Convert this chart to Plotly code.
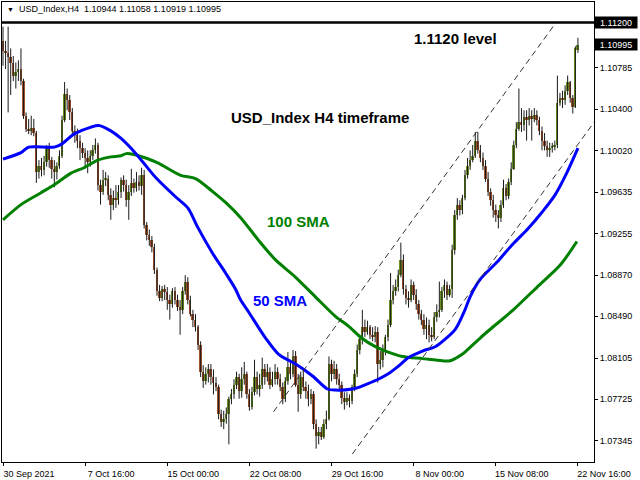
import plotly.graph_objects as go

# USD_Index H4 candles, 30 Sep 2021 00:00 -> 22 Nov 2021 16:00 (x = bar number)
opens = [1.1103, 1.1094, 1.1092, 1.1088, 1.1083, 1.1071, 1.1074, 1.1077, 1.1066, 1.1034,
         1.1022, 1.1020, 1.1023, 1.1018, 1.0982, 1.0988, 1.0984, 1.0991, 1.1004, 1.0993,
         1.0985, 1.0982, 1.0988, 1.0997, 1.1030, 1.1054, 1.1048, 1.1037, 1.1020, 1.1016,
         1.1011, 1.1004, 1.1000, 1.0995, 1.0991, 1.0997, 1.1002, 1.1007, 1.0970, 1.0964,
         1.0975, 1.0976, 1.0961, 1.0952, 1.0958, 1.0956, 1.0964, 1.0975, 1.0970, 1.0956,
         1.0964, 1.0972, 1.0967, 1.0973, 1.0969, 1.0979, 1.0933, 1.0924, 1.0919, 1.0913,
         1.0892, 1.0872, 1.0866, 1.0874, 1.0871, 1.0864, 1.0860, 1.0872, 1.0864, 1.0858,
         1.0855, 1.0872, 1.0881, 1.0864, 1.0851, 1.0846, 1.0839, 1.0823, 1.0798, 1.0789,
         1.0796, 1.0800, 1.0793, 1.0788, 1.0784, 1.0759, 1.0752, 1.0754, 1.0759, 1.0773,
         1.0777, 1.0786, 1.0793, 1.0780, 1.0791, 1.0796, 1.0777, 1.0765, 1.0779, 1.0793,
         1.0782, 1.0786, 1.0800, 1.0793, 1.0798, 1.0786, 1.0791, 1.0798, 1.0791, 1.0784,
         1.0773, 1.0789, 1.0802, 1.0796, 1.0812, 1.0786, 1.0777, 1.0793, 1.0784, 1.0780,
         1.0773, 1.0777, 1.0750, 1.0739, 1.0742, 1.0738, 1.0750, 1.0754, 1.0805, 1.0796,
         1.0800, 1.0791, 1.0786, 1.0774, 1.0770, 1.0774, 1.0771, 1.0784, 1.0796, 1.0818,
         1.0828, 1.0839, 1.0835, 1.0839, 1.0832, 1.0830, 1.0835, 1.0805, 1.0809, 1.0817,
         1.0830, 1.0841, 1.0864, 1.0872, 1.0876, 1.0887, 1.0901, 1.0874, 1.0866, 1.0864,
         1.0878, 1.0869, 1.0860, 1.0851, 1.0846, 1.0837, 1.0841, 1.0832, 1.0830, 1.0848,
         1.0853, 1.0855, 1.0872, 1.0878, 1.0869, 1.0874, 1.0910, 1.0942, 1.0952, 1.0947,
         1.0958, 1.0979, 1.0988, 1.0993, 1.0997, 1.1011, 1.1002, 1.0995, 1.0988, 1.0976,
         1.0964, 1.0956, 1.0947, 1.0942, 1.0940, 1.0952, 1.0967, 1.0960, 1.0973, 1.0985,
         1.1007, 1.1022, 1.1028, 1.1025, 1.1033, 1.1030, 1.1034, 1.1031, 1.1035, 1.1030,
         1.1020, 1.1011, 1.1006, 1.1002, 1.1004, 1.1006, 1.1007, 1.1046, 1.1050, 1.1048,
         1.1057, 1.1065, 1.1050, 1.1042, 1.10944]

highs = [1.1116, 1.1103, 1.1116, 1.1096, 1.1089, 1.1083, 1.1085, 1.1096, 1.1068, 1.1037,
         1.1031, 1.1034, 1.1031, 1.1020, 1.0993, 1.0995, 1.0997, 1.1007, 1.1009, 1.0996,
         1.0993, 1.0991, 1.1002, 1.1034, 1.1065, 1.1059, 1.1053, 1.1041, 1.1025, 1.1022,
         1.1016, 1.1009, 1.1004, 1.1002, 1.1002, 1.1007, 1.1013, 1.1009, 1.0975, 1.0984,
         1.0982, 1.0979, 1.0967, 1.0965, 1.0970, 1.0970, 1.0977, 1.0979, 1.0975, 1.0970,
         1.0985, 1.0976, 1.0982, 1.0979, 1.0986, 1.0984, 1.0936, 1.0929, 1.0923, 1.0916,
         1.0894, 1.0878, 1.0877, 1.0878, 1.0876, 1.0869, 1.0875, 1.0876, 1.0869, 1.0864,
         1.0876, 1.0887, 1.0885, 1.0868, 1.0855, 1.0851, 1.0841, 1.0826, 1.0804, 1.0802,
         1.0805, 1.0805, 1.0800, 1.0793, 1.0786, 1.0763, 1.0762, 1.0765, 1.0775, 1.0782,
         1.0791, 1.0798, 1.0796, 1.0802, 1.0807, 1.0798, 1.0782, 1.0784, 1.0809, 1.0798,
         1.0796, 1.0811, 1.0805, 1.0805, 1.0802, 1.0798, 1.0805, 1.0802, 1.0796, 1.0788,
         1.0793, 1.0816, 1.0809, 1.0818, 1.0817, 1.0796, 1.0798, 1.0800, 1.0789, 1.0786,
         1.0782, 1.0780, 1.0754, 1.0747, 1.0747, 1.0754, 1.0762, 1.0812, 1.0809, 1.0808,
         1.0805, 1.0796, 1.0789, 1.0779, 1.0779, 1.0777, 1.0786, 1.0800, 1.0823, 1.0832,
         1.0855, 1.0846, 1.0845, 1.0841, 1.0839, 1.0840, 1.0839, 1.0817, 1.0823, 1.0832,
         1.0846, 1.0889, 1.0878, 1.0883, 1.0892, 1.0917, 1.0906, 1.0878, 1.0872, 1.0883,
         1.0881, 1.0874, 1.0864, 1.0855, 1.0851, 1.0848, 1.0846, 1.0839, 1.0853, 1.0860,
         1.0881, 1.0876, 1.0883, 1.0881, 1.0878, 1.0915, 1.0947, 1.0958, 1.0956, 1.0961,
         1.0984, 1.0995, 1.1002, 1.1007, 1.1019, 1.1019, 1.1007, 1.1000, 1.0993, 1.0982,
         1.0967, 1.0961, 1.0952, 1.0947, 1.0956, 1.0975, 1.0971, 1.0976, 1.0991, 1.1011,
         1.1028, 1.1059, 1.1041, 1.1039, 1.1039, 1.1041, 1.1039, 1.1041, 1.1039, 1.1033,
         1.1024, 1.1018, 1.1011, 1.1009, 1.1009, 1.1011, 1.1071, 1.1055, 1.1057, 1.1062,
         1.1071, 1.1066, 1.1053, 1.1098, 1.11058]

lows = [1.1080, 1.1077, 1.1037, 1.1053, 1.1066, 1.1059, 1.1066, 1.1062, 1.1031, 1.1019,
        1.1017, 1.1016, 1.1015, 1.0972, 1.0976, 1.0978, 1.0979, 1.0987, 1.0986, 1.0976,
        1.0968, 1.0975, 1.0985, 1.0995, 1.1028, 1.1039, 1.1030, 1.1016, 1.1009, 1.1004,
        1.0993, 1.0995, 1.0985, 1.0981, 1.0987, 1.0993, 1.0999, 1.0965, 1.0952, 1.0961,
        1.0969, 1.0956, 1.0938, 1.0947, 1.0949, 1.0952, 1.0958, 1.0964, 1.0950, 1.0938,
        1.0960, 1.0963, 1.0964, 1.0965, 1.0961, 1.0930, 1.0919, 1.0914, 1.0908, 1.0888,
        1.0868, 1.0863, 1.0863, 1.0864, 1.0855, 1.0846, 1.0857, 1.0860, 1.0854, 1.0832,
        1.0851, 1.0869, 1.0860, 1.0849, 1.0839, 1.0835, 1.0818, 1.0793, 1.0783, 1.0786,
        1.0788, 1.0786, 1.0777, 1.0780, 1.0754, 1.0747, 1.0745, 1.0750, 1.0731, 1.0768,
        1.0773, 1.0782, 1.0773, 1.0774, 1.0786, 1.0773, 1.0762, 1.0763, 1.0776, 1.0777,
        1.0775, 1.0782, 1.0786, 1.0789, 1.0782, 1.0784, 1.0786, 1.0786, 1.0780, 1.0768,
        1.0770, 1.0786, 1.0791, 1.0793, 1.0784, 1.0761, 1.0773, 1.0780, 1.0773, 1.0766,
        1.0768, 1.0745, 1.0727, 1.0731, 1.0735, 1.0736, 1.0745, 1.0753, 1.0789, 1.0791,
        1.0786, 1.0782, 1.0768, 1.0763, 1.0767, 1.0765, 1.0768, 1.0780, 1.0793, 1.0814,
        1.0823, 1.0830, 1.0832, 1.0828, 1.0826, 1.0825, 1.0788, 1.0800, 1.0802, 1.0813,
        1.0826, 1.0839, 1.0860, 1.0868, 1.0872, 1.0885, 1.0869, 1.0860, 1.0857, 1.0862,
        1.0864, 1.0855, 1.0846, 1.0841, 1.0832, 1.0828, 1.0825, 1.0826, 1.0828, 1.0844,
        1.0848, 1.0853, 1.0866, 1.0864, 1.0867, 1.0866, 1.0906, 1.0938, 1.0942, 1.0943,
        1.0956, 1.0976, 1.0984, 1.0991, 1.0995, 1.0999, 1.0991, 1.0984, 1.0973, 1.0960,
        1.0951, 1.0940, 1.0936, 1.0930, 1.0936, 1.0949, 1.0956, 1.0957, 1.0970, 1.0984,
        1.1004, 1.1020, 1.1019, 1.1020, 1.1011, 1.1025, 1.1011, 1.1028, 1.1025, 1.1016,
        1.1002, 1.1002, 1.0996, 1.0996, 1.1000, 1.1002, 1.1004, 1.1043, 1.1041, 1.1044,
        1.1053, 1.1046, 1.1036, 1.1041, 1.10919]

closes = [1.1094, 1.1092, 1.1088, 1.1083, 1.1071, 1.1074, 1.1077, 1.1066, 1.1034, 1.1022,
          1.1020, 1.1023, 1.1018, 1.0982, 1.0988, 1.0984, 1.0991, 1.1004, 1.0993, 1.0985,
          1.0982, 1.0988, 1.0997, 1.1030, 1.1054, 1.1048, 1.1037, 1.1020, 1.1016, 1.1011,
          1.1004, 1.1000, 1.0995, 1.0991, 1.0997, 1.1002, 1.1007, 1.0970, 1.0964, 1.0975,
          1.0976, 1.0961, 1.0952, 1.0958, 1.0956, 1.0964, 1.0975, 1.0970, 1.0956, 1.0964,
          1.0972, 1.0967, 1.0973, 1.0969, 1.0979, 1.0933, 1.0924, 1.0919, 1.0913, 1.0892,
          1.0872, 1.0866, 1.0874, 1.0871, 1.0864, 1.0860, 1.0872, 1.0864, 1.0858, 1.0855,
          1.0872, 1.0881, 1.0864, 1.0851, 1.0846, 1.0839, 1.0823, 1.0798, 1.0789, 1.0796,
          1.0800, 1.0793, 1.0788, 1.0784, 1.0759, 1.0752, 1.0754, 1.0759, 1.0773, 1.0777,
          1.0786, 1.0793, 1.0780, 1.0791, 1.0796, 1.0777, 1.0765, 1.0779, 1.0793, 1.0782,
          1.0786, 1.0800, 1.0793, 1.0798, 1.0786, 1.0791, 1.0798, 1.0791, 1.0784, 1.0773,
          1.0789, 1.0802, 1.0796, 1.0812, 1.0786, 1.0777, 1.0793, 1.0784, 1.0780, 1.0773,
          1.0777, 1.0750, 1.0739, 1.0742, 1.0738, 1.0750, 1.0754, 1.0805, 1.0796, 1.0800,
          1.0791, 1.0786, 1.0774, 1.0770, 1.0774, 1.0771, 1.0784, 1.0796, 1.0818, 1.0828,
          1.0839, 1.0835, 1.0839, 1.0832, 1.0830, 1.0835, 1.0805, 1.0809, 1.0817, 1.0830,
          1.0841, 1.0864, 1.0872, 1.0876, 1.0887, 1.0901, 1.0874, 1.0866, 1.0864, 1.0878,
          1.0869, 1.0860, 1.0851, 1.0846, 1.0837, 1.0841, 1.0832, 1.0830, 1.0848, 1.0853,
          1.0855, 1.0872, 1.0878, 1.0869, 1.0874, 1.0910, 1.0942, 1.0952, 1.0947, 1.0958,
          1.0979, 1.0988, 1.0993, 1.0997, 1.1011, 1.1002, 1.0995, 1.0988, 1.0976, 1.0964,
          1.0956, 1.0947, 1.0942, 1.0940, 1.0952, 1.0967, 1.0960, 1.0973, 1.0985, 1.1007,
          1.1022, 1.1028, 1.1025, 1.1033, 1.1030, 1.1034, 1.1031, 1.1035, 1.1030, 1.1020,
          1.1011, 1.1006, 1.1002, 1.1004, 1.1006, 1.1007, 1.1046, 1.1050, 1.1048, 1.1057,
          1.1065, 1.1050, 1.1042, 1.1096, 1.10995]

# 50 SMA and 100 SMA, sampled along the bar axis
sma50_bar = [0, 7, 10, 20, 23, 27, 30.3, 37.3, 42, 46, 51.8, 59.5, 67.3, 72, 75.9,
             81.7, 86.7, 90.6, 92.6, 95.7, 102.3, 107.4, 114, 120.6, 126.4, 129.5,
             136.1, 139.2, 141.3, 146.2, 150.1, 154, 158, 163.4, 168.4, 172.3, 176.2,
             180, 182, 185.9, 192.5, 198.4, 204.6, 210, 215.1, 219.8, 224]
sma50_val = [1.0994, 1.1000, 1.1005, 1.1005, 1.1008, 1.1016, 1.1020, 1.1025, 1.1020,
             1.1013, 1.0999, 1.0977, 1.0959, 1.0949, 1.0931, 1.0907, 1.0889, 1.0874,
             1.0864, 1.0853, 1.0829, 1.0814, 1.0805, 1.0794, 1.0782, 1.0781, 1.0782,
             1.0784, 1.0786, 1.0791, 1.0796, 1.0803, 1.0811, 1.0817, 1.0821, 1.0828,
             1.0837, 1.0855, 1.0867, 1.0883, 1.0899, 1.0915, 1.0930, 1.0945, 1.0961,
             1.0982, 1.1004]

sma100_bar = [0, 7, 14.8, 19.8, 26.5, 31.5, 37, 42, 46, 48, 55.6, 60.7, 69.2, 75,
              81.7, 86.7, 92.6, 99.6, 106.2, 114, 121.7, 129.5, 134.6, 139.2, 145.1,
              150.1, 155.6, 163.4, 171.2, 174.2, 178.9, 180.9, 185.9, 189.8, 198.8,
              208.1, 217, 223.6]
sma100_val = [1.0938, 1.0952, 1.0963, 1.0970, 1.0981, 1.0986, 1.0993, 1.0996, 1.0997,
              1.0999, 1.0995, 1.0990, 1.0979, 1.0976, 1.0964, 1.0954, 1.0940, 1.0919,
              1.0901, 1.0885, 1.0867, 1.0849, 1.0840, 1.0830, 1.0821, 1.0816, 1.0812,
              1.0810, 1.0808, 1.0808, 1.0814, 1.0818, 1.0829, 1.0837, 1.0855, 1.0876,
              1.0896, 1.0918]

# trend channel endpoints (bar, price)
upper_channel_bar = [105.4, 215.5]
upper_channel_val = [1.0761, 1.1120]
lower_channel_bar = [136.1, 230.3]
lower_channel_val = [1.0722, 1.1028]

level_price = 1.11200
last_price = 1.10995

price_ticks = [1.10785, 1.10400, 1.10020, 1.09635, 1.09255, 1.08870,
               1.08490, 1.08105, 1.07725, 1.07345]
time_tick_bars = [0, 32, 64, 96, 128, 160, 192, 224]
time_tick_labels = ["30 Sep 2021", "7 Oct 16:00", "15 Oct 00:00", "22 Oct 08:00",
                    "29 Oct 16:00", "8 Nov 00:00", "15 Nov 08:00", "22 Nov 16:00"]

BULL = "#6B8E23"
BEAR = "#A0522D"
FONT = "Liberation Sans, Arial, sans-serif"

n = len(closes)
idx = list(range(n))

# wicks: one broken polyline, low -> high for every bar
wick_x, wick_y = [], []
for i in idx:
    wick_x += [i, i, None]
    wick_y += [lows[i], highs[i], None]

body_base = [min(o, c) for o, c in zip(opens, closes)]
body_len = [max(abs(c - o), 0.00003) for o, c in zip(opens, closes)]
body_col = [BULL if c >= o else BEAR for o, c in zip(opens, closes)]

fig = go.Figure()
fig.add_trace(go.Scatter(x=wick_x, y=wick_y, mode="lines",
                         line=dict(color="#1a1a1a", width=1),
                         connectgaps=False, hoverinfo="skip"))
fig.add_trace(go.Bar(x=idx, y=body_len, base=body_base, width=0.75,
                     marker=dict(color=body_col, line=dict(width=0))))
fig.add_trace(go.Scatter(x=sma100_bar, y=sma100_val, mode="lines",
                         line=dict(color="#008000", width=3, shape="spline", smoothing=0.8)))
fig.add_trace(go.Scatter(x=sma50_bar, y=sma50_val, mode="lines",
                         line=dict(color="#0000FF", width=3, shape="spline", smoothing=0.8)))

# channel lines
for xs, ys in ((upper_channel_bar, upper_channel_val), (lower_channel_bar, lower_channel_val)):
    fig.add_shape(type="line", xref="x", yref="y", x0=xs[0], y0=ys[0], x1=xs[1], y1=ys[1],
                  line=dict(color="#333333", width=1, dash="6px,4px"))

# 1.1120 horizontal level
fig.add_shape(type="line", xref="paper", yref="y", x0=0, x1=1, y0=level_price, y1=level_price,
              line=dict(color="black", width=2.5))

annotations = [
    dict(x=176.2, y=1.1105, xref="x", yref="y", text="<b>1.1120 level</b>",
         font=dict(size=15, color="black", family=FONT), showarrow=False),
    dict(x=123.5, y=1.1032, xref="x", yref="y", text="<b>USD_Index H4 timeframe</b>",
         font=dict(size=15, color="black", family=FONT), showarrow=False),
    dict(x=115.3, y=1.0936, xref="x", yref="y", text="<b>100 SMA</b>",
         font=dict(size=15, color="#008000", family=FONT), showarrow=False),
    dict(x=108.0, y=1.0864, xref="x", yref="y", text="<b>50 SMA</b>",
         font=dict(size=15, color="#0000FF", family=FONT), showarrow=False),
    dict(x=0.005, y=0.985, xref="paper", yref="paper", xanchor="left", yanchor="middle",
         text="<span style='font-size:7px'>▼</span>  USD_Index,H4  1.10944 1.11058 1.10919 1.10995",
         font=dict(size=9, color="black", family=FONT), showarrow=False),
]
for price in (level_price, last_price):
    annotations.append(dict(x=1, y=price, xref="paper", yref="y", xanchor="left",
                            yanchor="middle", text=f"{price:.5f}", width=40, height=9,
                            align="center", bgcolor="black", borderpad=1,
                            font=dict(size=9, color="white", family=FONT), showarrow=False))

fig.update_layout(
    width=640, height=480, autosize=False,
    margin=dict(l=1, r=46, t=1, b=17),
    paper_bgcolor="white", plot_bgcolor="white",
    showlegend=False, bargap=0,
    annotations=annotations,
    xaxis=dict(range=[-0.39, 230.26], showgrid=False, zeroline=False,
               showline=True, mirror=True, linecolor="black", linewidth=1,
               ticks="outside", ticklen=3, tickcolor="black",
               tickvals=time_tick_bars, ticktext=time_tick_labels,
               ticklabelshift=26,
               tickfont=dict(size=9, color="black", family=FONT)),
    yaxis=dict(range=[1.07147, 1.11388], side="right", showgrid=False, zeroline=False,
               showline=True, mirror=True, linecolor="black", linewidth=1,
               ticks="outside", ticklen=3, tickcolor="black",
               tickvals=price_ticks, ticktext=[f"{v:.5f}" for v in price_ticks],
               tickfont=dict(size=9, color="black", family=FONT)),
)

fig.write_html("out.html")
